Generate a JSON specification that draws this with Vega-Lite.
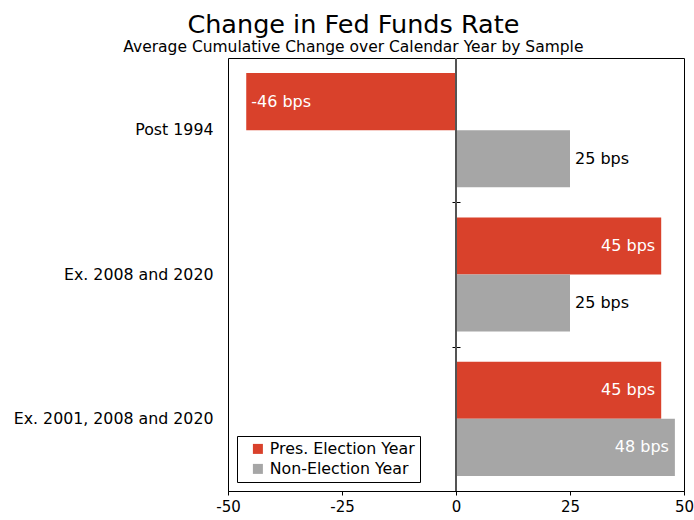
{
  "$schema": "https://vega.github.io/schema/vega-lite/v6.json",
  "width": 456,
  "height": 433,
  "autosize": "none",
  "padding": {"left": 228, "top": 58, "right": 10, "bottom": 29},
  "background": "white",
  "config": {
    "font": "DejaVu Sans",
    "view": {"stroke": "black", "strokeWidth": 1}
  },
  "title": {
    "text": "Change in Fed Funds Rate",
    "subtitle": "Average Cumulative Change over Calendar Year by Sample",
    "fontSize": 25.5,
    "fontWeight": "normal",
    "subtitleFontSize": 15.5,
    "subtitleColor": "black",
    "color": "black",
    "anchor": "middle",
    "frame": "bounds",
    "offset": 2,
    "subtitlePadding": 1
  },
  "data": {
    "values": [
      {"sample": "Post 1994", "series": "Pres. Election Year", "value": -46, "label": "-46 bps"},
      {"sample": "Post 1994", "series": "Non-Election Year", "value": 25, "label": "25 bps"},
      {"sample": "Ex. 2008 and 2020", "series": "Pres. Election Year", "value": 45, "label": "45 bps"},
      {"sample": "Ex. 2008 and 2020", "series": "Non-Election Year", "value": 25, "label": "25 bps"},
      {"sample": "Ex. 2001, 2008 and 2020", "series": "Pres. Election Year", "value": 45, "label": "45 bps"},
      {"sample": "Ex. 2001, 2008 and 2020", "series": "Non-Election Year", "value": 48, "label": "48 bps"}
    ]
  },
  "encoding": {
    "y": {
      "field": "sample",
      "type": "nominal",
      "sort": ["Post 1994", "Ex. 2008 and 2020", "Ex. 2001, 2008 and 2020"],
      "scale": {"paddingInner": 0, "paddingOuter": 0},
      "title": null
    },
    "yOffset": {
      "field": "series",
      "type": "nominal",
      "sort": ["Pres. Election Year", "Non-Election Year"],
      "scale": {"paddingInner": 0, "paddingOuter": 0.265}
    },
    "x": {
      "field": "value",
      "type": "quantitative",
      "scale": {"domain": [-50, 50], "nice": false},
      "axis": {
        "values": [-50, -25, 0, 25, 50],
        "labelExpr": "'' + datum.value",
        "labelFlush": false,
        "title": null,
        "grid": false,
        "domainColor": "black",
        "tickColor": "black",
        "tickSize": 4,
        "labelFontSize": 15,
        "labelColor": "black",
        "labelPadding": 4
      }
    }
  },
  "layer": [
    {
      "mark": {"type": "bar"},
      "encoding": {
        "y": {
          "field": "sample",
          "type": "nominal",
          "sort": ["Post 1994", "Ex. 2008 and 2020", "Ex. 2001, 2008 and 2020"],
          "scale": {"paddingInner": 0, "paddingOuter": 0},
          "title": null,
          "axis": {
            "orient": "left",
            "offset": -232,
            "labels": false,
            "domain": false,
            "ticks": true,
            "tickBand": "extent",
            "tickSize": 8,
            "tickColor": "black",
            "grid": false,
            "title": null
          }
        },
        "color": {
          "field": "series",
          "type": "nominal",
          "sort": ["Pres. Election Year", "Non-Election Year"],
          "scale": {
            "domain": ["Pres. Election Year", "Non-Election Year"],
            "range": ["#D9412B", "#A6A6A6"]
          },
          "legend": {
            "title": null,
            "orient": "bottom-left",
            "offset": 9,
            "strokeColor": "black",
            "fillColor": "white",
            "padding": 5,
            "symbolType": "square",
            "symbolSize": 100,
            "symbolOffset": 8,
            "labelOffset": 4,
            "symbolStrokeWidth": 0,
            "labelFontSize": 15.8,
            "labelColor": "black",
            "rowPadding": 3
          }
        }
      }
    },
    {
      "mark": {"type": "rule", "color": "#555555", "strokeWidth": 1.5},
      "encoding": {
        "x": {"datum": 0},
        "y": null,
        "yOffset": null
      }
    },
    {
      "transform": [{"filter": "datum.value < 0"}],
      "mark": {"type": "text", "align": "left", "dx": 5, "fontSize": 16, "color": "white", "baseline": "middle"},
      "encoding": {
        "text": {"field": "label"},
        "y": {
          "field": "sample",
          "type": "nominal",
          "sort": ["Post 1994", "Ex. 2008 and 2020", "Ex. 2001, 2008 and 2020"],
          "title": null,
          "axis": {
            "orient": "left",
            "ticks": false,
            "domain": false,
            "grid": false,
            "labelFontSize": 15.8,
            "labelLimit": 300,
            "labelColor": "black",
            "labelPadding": 15,
            "title": null
          }
        }
      }
    },
    {
      "transform": [{"filter": "datum.value > 40"}],
      "mark": {"type": "text", "align": "right", "dx": -6, "fontSize": 16, "color": "white", "baseline": "middle"},
      "encoding": {
        "text": {"field": "label"},
        "y": {
          "field": "sample",
          "type": "nominal",
          "sort": ["Post 1994", "Ex. 2008 and 2020", "Ex. 2001, 2008 and 2020"],
          "axis": null
        }
      }
    },
    {
      "transform": [{"filter": "datum.value > 0 && datum.value <= 40"}],
      "mark": {"type": "text", "align": "left", "dx": 5, "fontSize": 16, "color": "black", "baseline": "middle"},
      "encoding": {
        "text": {"field": "label"},
        "y": {
          "field": "sample",
          "type": "nominal",
          "sort": ["Post 1994", "Ex. 2008 and 2020", "Ex. 2001, 2008 and 2020"],
          "axis": null
        }
      }
    }
  ],
  "resolve": {"axis": {"y": "independent"}}
}
